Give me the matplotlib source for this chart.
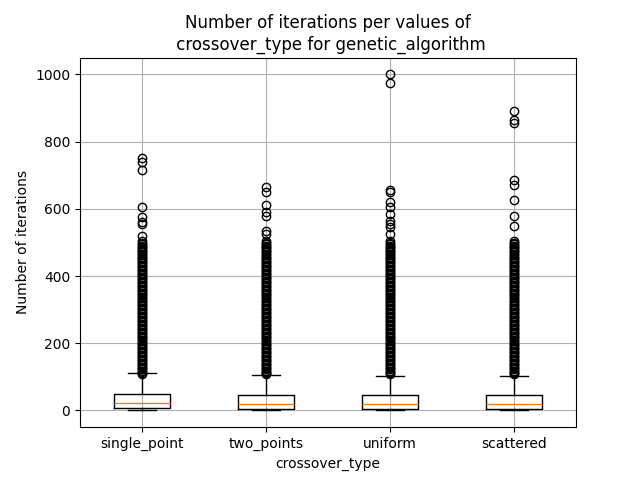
import matplotlib
matplotlib.use("Agg")
import matplotlib.pyplot as plt

categories = ["single_point", "two_points", "uniform", "scattered"]

# box statistics
q1s = [8, 5, 5, 5]
medians = [22, 18, 20, 20]
q3s = [48, 45, 45, 45]
whislos = [0, 0, 0, 0]
whishis = [110, 105, 102, 102]

# outliers: dense column shared by all categories, then sparse high values
dense = [108, 111, 115, 118, 122, 126, 130, 134, 138, 142, 146, 150, 154, 158,
         162, 166, 170, 174, 178, 182, 186, 190, 194, 198, 202, 206, 210, 214,
         218, 222, 226, 230, 234, 238, 242, 246, 250, 254, 258, 262, 266, 270,
         274, 278, 282, 286, 290, 294, 298, 302, 306, 310, 314, 318, 322, 326,
         330, 334, 338, 342, 346, 350, 354, 358, 362, 366, 370, 374, 378, 382,
         386, 390, 394, 398, 402, 406, 410, 414, 418, 422, 426, 430, 434, 438,
         442, 446, 450, 454, 458, 462, 466, 470, 474, 478, 482, 486, 490, 494,
         497]
sparse = [
    [505, 520, 555, 560, 575, 605, 715, 740, 752],
    [505, 525, 535, 580, 590, 610, 650, 665],
    [505, 525, 545, 555, 565, 585, 605, 620, 650, 655, 975, 1000],
    [505, 550, 580, 625, 670, 685, 855, 865, 890],
]

stats = []
for i, name in enumerate(categories):
    stats.append({
        "label": name,
        "q1": q1s[i], "med": medians[i], "q3": q3s[i],
        "whislo": whislos[i], "whishi": whishis[i],
        "fliers": dense + sparse[i],
    })

fig, ax = plt.subplots(figsize=(6.4, 4.8), dpi=100)
ax.bxp(stats)
ax.set_title("Number of iterations per values of\n crossover_type for genetic_algorithm")
ax.set_xlabel("crossover_type")
ax.set_ylabel("Number of iterations")
ax.grid(True)
fig.savefig("out.png")
